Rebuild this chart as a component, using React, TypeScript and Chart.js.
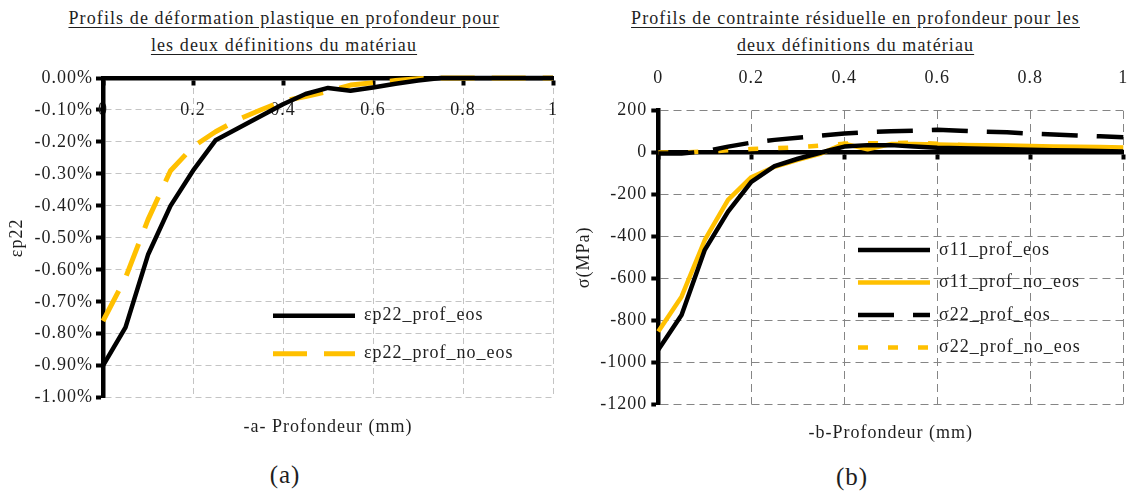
import React, { useEffect, useRef } from 'react';
import { Chart, registerables } from 'chart.js';

Chart.register(...registerables);

const FONT = "'Liberation Serif', 'Times New Roman', serif";
const TEXT = '#1e1e1e';
const GOLD = '#FFC000';

// ---- data ----
const depthMm = [0, 0.05, 0.1, 0.15, 0.2, 0.25, 0.3, 0.35, 0.4, 0.45, 0.5, 0.55, 0.6, 0.65, 0.7, 0.75, 0.8, 0.85, 0.9, 0.95, 1];

// plastic strain (in %)
const ep22Eos = [-0.9, -0.78, -0.553, -0.4, -0.29, -0.195, -0.157, -0.12, -0.082, -0.05, -0.031, -0.04, -0.03, -0.018, -0.008, 0, 0, 0, 0, 0, 0];
const ep22NoEos = [-0.76, -0.625, -0.443, -0.29, -0.215, -0.168, -0.13, -0.1, -0.072, -0.058, -0.042, -0.022, -0.015, -0.008, -0.002, 0, 0, 0, 0, 0, 0];

// residual stress (MPa)
const s11Eos = [-940, -774, -464, -282, -140, -65, -30, 0, 28, 35, 35, 28, 22, 20, 18, 15, 13, 11, 9, 7, 5];
const s11NoEos = [-853, -687, -417, -226, -118, -68, -35, -5, 42, 15, 40, 40, 38, 36, 35, 33, 31, 29, 27, 26, 24];
const s22Eos = [-5, -5, 5, 28, 47, 60, 70, 80, 90, 97, 101, 104, 108, 103, 99, 96, 90, 86, 81, 77, 72];
const s22NoEos = [0, 0, 4, 10, 16, 20, 25, 33, 42, 44, 44, 47, 42, 36, 31, 27, 24, 19, 13, 11, 15];

const seriesLabelsA = ['εp22_prof_eos', 'εp22_prof_no_eos'];
const seriesLabelsB = ['σ11_prof_eos', 'σ11_prof_no_eos', 'σ22_prof_eos', 'σ22_prof_no_eos'];

const titleA = ['Profils de déformation plastique en profondeur pour', 'les deux définitions du matériau'];
const titleB = ['Profils de contrainte résiduelle en profondeur pour les', 'deux définitions du matériau'];

const pts = (xs: number[], ys: number[]) => xs.map((x, i) => ({ x, y: ys[i] }));

const legendPlacer = {
  id: 'legendPlacer',
  beforeDraw(chart: any, _args: any, opts: any) {
    const lg = chart.legend;
    if (!lg) return;
    const ca = chart.chartArea;
    const pad = chart.options.plugins.legend.labels.padding;
    lg.left = ca.left + opts.x - pad;
    lg.top = ca.top + opts.y - pad;
    lg.right = lg.left + 1000;
    lg.bottom = lg.top + 1000;
    lg.width = 1000;
    lg.height = 1000;
  },
};

const spacing = {
  id: 'spacing',
  beforeUpdate(chart: any) { chart.ctx.letterSpacing = '1px'; },
  beforeDraw(chart: any) { chart.ctx.letterSpacing = '1px'; },
};

const legendLabels = (chart: any) =>
  (Chart.defaults.plugins.legend.labels.generateLabels as any)(chart).map((it: any) => {
    const ds = chart.data.datasets[it.datasetIndex];
    return { ...it, lineDash: ds.borderDash || [], lineWidth: ds.borderWidth, strokeStyle: ds.borderColor, lineCap: 'butt' };
  });

const tickFont = { family: FONT, size: 18 };
const fmtDepth = (v: any) => String(Math.round(Number(v) * 10) / 10);
const noPad = (s: any) => { s.paddingLeft = 0; s.paddingRight = 0; };

function ChartA() {
  const ref = useRef<HTMLCanvasElement>(null);
  useEffect(() => {
    const chart = new Chart(ref.current as HTMLCanvasElement, {
      type: 'line',
      data: {
        datasets: [
          {
            label: seriesLabelsA[0], data: pts(depthMm, ep22Eos), xAxisID: 'x', yAxisID: 'y',
            borderColor: '#000', backgroundColor: '#000', borderWidth: 4.5, pointRadius: 0, tension: 0,
            borderJoinStyle: 'round', clip: false,
          },
          {
            label: seriesLabelsA[1], data: pts(depthMm, ep22NoEos), xAxisID: 'x', yAxisID: 'y',
            borderColor: GOLD, backgroundColor: GOLD, borderWidth: 5, borderDash: [34, 17], pointRadius: 0, tension: 0,
            borderJoinStyle: 'round', clip: false,
          },
        ],
      } as any,
      options: {
        animation: false, responsive: false, maintainAspectRatio: false,
        layout: { padding: { top: 78, right: 7, left: 0, bottom: 0 } },
        scales: {
          x: {
            type: 'linear', axis: 'x', position: { y: 0 } as any, min: 0, max: 1,
            ticks: { stepSize: 0.2, padding: 16, font: tickFont, color: TEXT, callback: fmtDepth },
            grid: { color: '#c4c4c4', lineWidth: 1, tickColor: '#000', tickWidth: 4, tickLength: 5 },
            border: { display: true, color: '#000', width: 4.5, dash: [6, 4] },
            afterFit: noPad,
          },
          xb: {
            type: 'linear', axis: 'x', position: 'bottom', min: 0, max: 1, display: true,
            ticks: { display: false }, grid: { display: false, drawTicks: false }, border: { display: false },
            title: { display: true, text: '-a- Profondeur (mm)', color: TEXT, font: { family: FONT, size: 18 }, padding: { top: 18.5, bottom: 7.2 } },
            afterFit: noPad,
          },
          y: {
            type: 'linear', position: 'left', min: -1, max: 0,
            ticks: { stepSize: 0.1, padding: 3, font: tickFont, color: TEXT, callback: (v: any) => Number(v).toFixed(2) + '%' },
            grid: { color: '#c4c4c4', lineWidth: 1, tickColor: '#000', tickWidth: 4, tickLength: 7 },
            border: { display: true, color: '#000', width: 4.5, dash: [6, 4] },
            title: { display: true, text: 'εp22', color: TEXT, font: { family: FONT, size: 18 }, padding: { top: 6, bottom: 0 } },
            afterFit: (s: any) => { s.width = 103; },
          },
        } as any,
        plugins: {
          legend: {
            position: 'chartArea' as any, align: 'start',
            labels: { usePointStyle: true, pointStyle: 'line', pointStyleWidth: 82, padding: 20, color: TEXT, font: { family: FONT, size: 18 }, generateLabels: legendLabels },
          },
          tooltip: { enabled: false },
          legendPlacer: { x: 170, y: 228.7 },
        } as any,
      },
      plugins: [spacing, legendPlacer],
    });
    return () => chart.destroy();
  }, []);
  return <canvas ref={ref} width={560} height={445} style={{ position: 'absolute', left: 0, top: 0, width: 560, height: 445 }} />;
}

function ChartB() {
  const ref = useRef<HTMLCanvasElement>(null);
  useEffect(() => {
    const common = { pointRadius: 0, tension: 0, borderJoinStyle: 'round', clip: false, xAxisID: 'x', yAxisID: 'y' };
    const chart = new Chart(ref.current as HTMLCanvasElement, {
      type: 'line',
      data: {
        datasets: [
          { ...common, label: seriesLabelsB[0], data: pts(depthMm, s11Eos), borderColor: '#000', backgroundColor: '#000', borderWidth: 4.5 },
          { ...common, label: seriesLabelsB[1], data: pts(depthMm, s11NoEos), borderColor: GOLD, backgroundColor: GOLD, borderWidth: 4.5 },
          { ...common, label: seriesLabelsB[2], data: pts(depthMm, s22Eos), borderColor: '#000', backgroundColor: '#000', borderWidth: 4.5, borderDash: [36, 19] },
          { ...common, label: seriesLabelsB[3], data: pts(depthMm, s22NoEos), borderColor: GOLD, backgroundColor: GOLD, borderWidth: 4.5, borderDash: [10, 20] },
        ],
      } as any,
      options: {
        animation: false, responsive: false, maintainAspectRatio: false,
        layout: { padding: { top: 45.5, right: 7.7, left: 0, bottom: 0 } },
        scales: {
          x: {
            type: 'linear', axis: 'x', position: 'top', min: 0, max: 1,
            ticks: { stepSize: 0.2, padding: 21.7, font: tickFont, color: TEXT, callback: fmtDepth },
            grid: { color: '#858585', lineWidth: 1, drawTicks: false },
            border: { display: false, dash: [8, 5] },
            afterFit: noPad,
          },
          xl: {
            type: 'linear', axis: 'x', position: { y: 0 } as any, min: 0, max: 1,
            ticks: { display: false, stepSize: 0.2 },
            grid: { drawOnChartArea: false, drawTicks: true, tickColor: '#000', tickWidth: 4, tickLength: 5 },
            border: { display: true, color: '#000', width: 4.5 },
            afterFit: noPad,
          },
          xb: {
            type: 'linear', axis: 'x', position: 'bottom', min: 0, max: 1, display: true,
            ticks: { display: false }, grid: { display: false, drawTicks: false }, border: { display: false },
            title: { display: true, text: '-b-Profondeur (mm)', color: TEXT, font: { family: FONT, size: 18 }, padding: { top: 17.9, bottom: 1.2 } },
            afterFit: noPad,
          },
          y: {
            type: 'linear', position: 'left', min: -1200, max: 200,
            ticks: { stepSize: 200, padding: 4, font: tickFont, color: TEXT, callback: (v: any) => String(v) },
            grid: { color: '#858585', lineWidth: 1, tickColor: '#000', tickWidth: 4, tickLength: 7 },
            border: { display: true, color: '#000', width: 4.5, dash: [8, 5] },
            title: { display: true, text: 'σ(MPa)', color: TEXT, font: { family: FONT, size: 18 }, padding: { top: 8, bottom: 0 } },
            afterFit: (s: any) => { s.width = 93.3; },
          },
        } as any,
        plugins: {
          legend: {
            position: 'chartArea' as any, align: 'start',
            labels: { usePointStyle: true, pointStyle: 'line', pointStyleWidth: 72, padding: 14.5, color: TEXT, font: { family: FONT, size: 18 }, generateLabels: legendLabels },
          },
          tooltip: { enabled: false },
          legendPlacer: { x: 199.7, y: 130.5 },
        } as any,
      },
      plugins: [spacing, legendPlacer],
    });
    return () => chart.destroy();
  }, []);
  return <canvas ref={ref} width={566} height={445} style={{ position: 'absolute', left: 565, top: 0, width: 566, height: 445 }} />;
}

const titleStyle: React.CSSProperties = {
  position: 'absolute', top: 4.5, textAlign: 'center', fontFamily: FONT, fontSize: 18, lineHeight: '27px',
  color: TEXT, textDecoration: 'underline', textUnderlineOffset: 3, whiteSpace: 'nowrap', letterSpacing: '1.1px',
};
const capStyle: React.CSSProperties = {
  position: 'absolute', textAlign: 'center', fontFamily: FONT, fontSize: 25, lineHeight: '30px', color: TEXT, letterSpacing: '1px',
};

export default function App() {
  return (
    <div style={{ position: 'fixed', left: 0, top: 0, width: 1127, height: 492, overflow: 'hidden', background: '#fff' }}>
      <div style={{ ...titleStyle, left: -16, width: 600 }}>
        <div>{titleA[0]}</div>
        <div>{titleA[1]}</div>
      </div>
      <div style={{ ...titleStyle, left: 555.5, width: 600 }}>
        <div>{titleB[0]}</div>
        <div>{titleB[1]}</div>
      </div>
      <ChartA />
      <ChartB />
      <div style={{ ...capStyle, left: 235, width: 100, top: 460 }}>(a)</div>
      <div style={{ ...capStyle, left: 802, width: 100, top: 462 }}>(b)</div>
    </div>
  );
}
